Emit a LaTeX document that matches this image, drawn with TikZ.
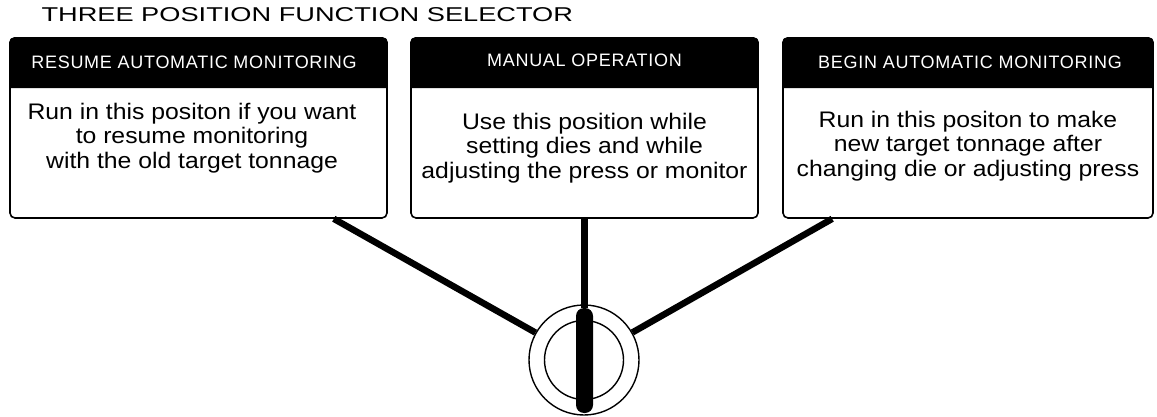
\documentclass[tikz,border=0pt]{standalone}
\usepackage{fontspec}
\setmainfont{Liberation Sans}
\tikzset{
    panel/.style={draw, line width=1.6pt, rounded corners=5pt, minimum height=180pt, inner sep=0pt},
    headtext/.style={text=white, font=\fontsize{18}{20}\selectfont\addfontfeature{LetterSpace=4}},
    bodytext/.style={align=center, font=\fontsize{22.5}{24.5}\selectfont\addfontfeature{FakeStretch=1.1}},
    arm/.style={line width=6.5pt},
}
\begin{document}
\begin{tikzpicture}[x=1pt, y=-1pt]
    \useasboundingbox (0,0) rectangle (1157,417);
    \node[anchor=base west, font=\fontsize{20}{24}\selectfont\addfontfeature{FakeStretch=1.36}] (title) at (38,22) {THREE POSITION FUNCTION SELECTOR};
    % the three panels
    \node[panel, minimum width=377pt] (resume) at (198.5,128) {};
    \node[panel, minimum width=347pt] (manual) at (584.5,128) {};
    \node[panel, minimum width=370pt] (begin) at (968,128) {};
    \foreach \p in {resume, manual, begin}
        \fill ([yshift=-51pt]\p.north west) {[rounded corners=5pt] -- (\p.north west) -- (\p.north east)} -- ([yshift=-51pt]\p.north east) -- cycle;
    \node[headtext] (resumehead) at (194,62) {RESUME AUTOMATIC MONITORING};
    \node[headtext] (manualhead) at (584.5,60) {MANUAL OPERATION};
    \node[headtext] (beginhead) at (970,62) {BEGIN AUTOMATIC MONITORING};
    \node[bodytext] (resumetext) at (192,138) {Run in this positon if you want\\to resume monitoring\\with the old target tonnage};
    \node[bodytext] (manualtext) at (584.5,148) {Use this position while\\setting dies and while\\adjusting the press or monitor};
    \node[bodytext] (begintext) at (968,146) {Run in this positon to make\\new target tonnage after\\changing die or adjusting press};
    % the selector knob
    \node[circle, draw, line width=1.4pt, minimum size=110pt, inner sep=0pt] (knob) at (584,360) {};
    \node[circle, draw, line width=1.4pt, minimum size=79pt, inner sep=0pt] (dial) at (knob) {};
    \node[fill, rounded corners=8pt, minimum width=17pt, minimum height=105pt, inner sep=0pt] (pointer) at (584.5,360.5) {};
    \coordinate (resumefoot) at ([xshift=-54pt]resume.south east);
    \coordinate (beginfoot) at ([xshift=50pt]begin.south west);
    \draw[arm] (resumefoot) -- (knob);
    \draw[arm] (beginfoot) -- (knob);
    \draw[arm, line width=7pt] (manual.south) -- (pointer.north);
\end{tikzpicture}
\end{document}
